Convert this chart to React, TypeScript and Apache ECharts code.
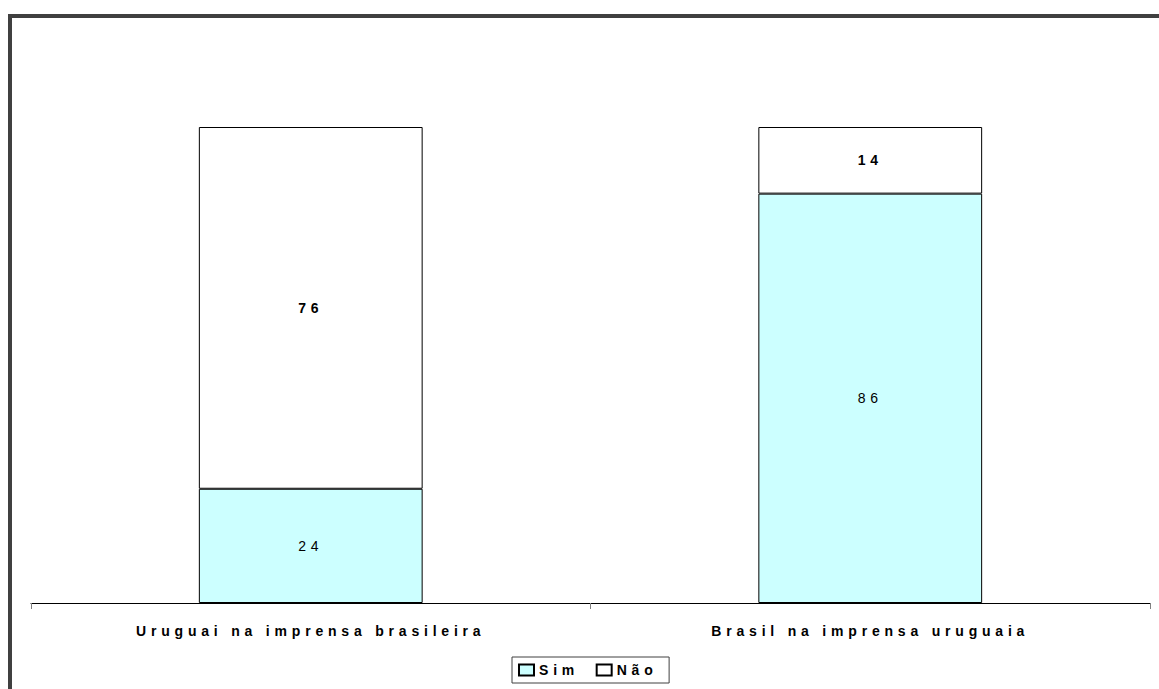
import React, { useEffect, useRef } from "react";
import * as echarts from "echarts";

const categories = ["Uruguai na imprensa brasileira", "Brasil na imprensa uruguaia"];
const simValues = [24, 86];
const naoValues = [76, 14];
const seriesNames = ["Sim", "Não"];

const FONT = "Arial, 'Liberation Sans', sans-serif";

export default function App() {
  const ref = useRef<HTMLDivElement>(null);
  useEffect(() => {
    if (!ref.current) return;
    const chart = echarts.init(ref.current, undefined, { renderer: "svg" });
    chart.setOption({
      animation: false,
      backgroundColor: "#ffffff",
      textStyle: { fontFamily: FONT },
      grid: { left: 31, right: 9, top: 127, bottom: 86 },
      xAxis: {
        type: "category",
        data: categories,
        axisLine: { lineStyle: { color: "#000", width: 1 } },
        axisTick: { show: true, length: 6, lineStyle: { color: "#808080" } },
        axisLabel: { margin: 21, color: "#000", fontSize: 14, fontWeight: "bold", fontFamily: FONT },
      },
      yAxis: { type: "value", min: 0, max: 100, show: false, splitLine: { show: false } },
      legend: {
        data: seriesNames,
        left: 512,
        top: 657,
        orient: "horizontal",
        itemWidth: 15,
        itemHeight: 11,
        itemGap: 31,
        padding: [6, 26, 6, 6],
        borderColor: "#404040",
        borderWidth: 1,
        icon: "rect",
        textStyle: { color: "#000", fontSize: 14, fontWeight: "bold", fontFamily: FONT },
      },
      series: [
        {
          name: seriesNames[0],
          type: "bar",
          stack: "total",
          barWidth: "40%",
          data: simValues,
          itemStyle: { color: "#CCFFFF", borderColor: "#000", borderWidth: 1 },
          label: { show: true, position: "inside", color: "#000", fontSize: 14, fontFamily: FONT },
        },
        {
          name: seriesNames[1],
          type: "bar",
          stack: "total",
          barWidth: "40%",
          data: naoValues,
          itemStyle: { color: "#FFFFFF", borderColor: "#000", borderWidth: 1 },
          label: { show: true, position: "inside", color: "#000", fontSize: 14, fontWeight: "bold", fontFamily: FONT },
        },
      ],
      graphic: [
        { type: "rect", shape: { x: 8, y: 14, width: 1151, height: 4 }, style: { fill: "#404040" }, silent: true },
        { type: "rect", shape: { x: 8, y: 14, width: 4, height: 675 }, style: { fill: "#404040" }, silent: true },
      ],
    });
    return () => chart.dispose();
  }, []);
  return (
    <div
      ref={ref}
      style={{ position: "fixed", left: 0, top: 0, width: 1159, height: 689, letterSpacing: "4.8px" }}
    />
  );
}
